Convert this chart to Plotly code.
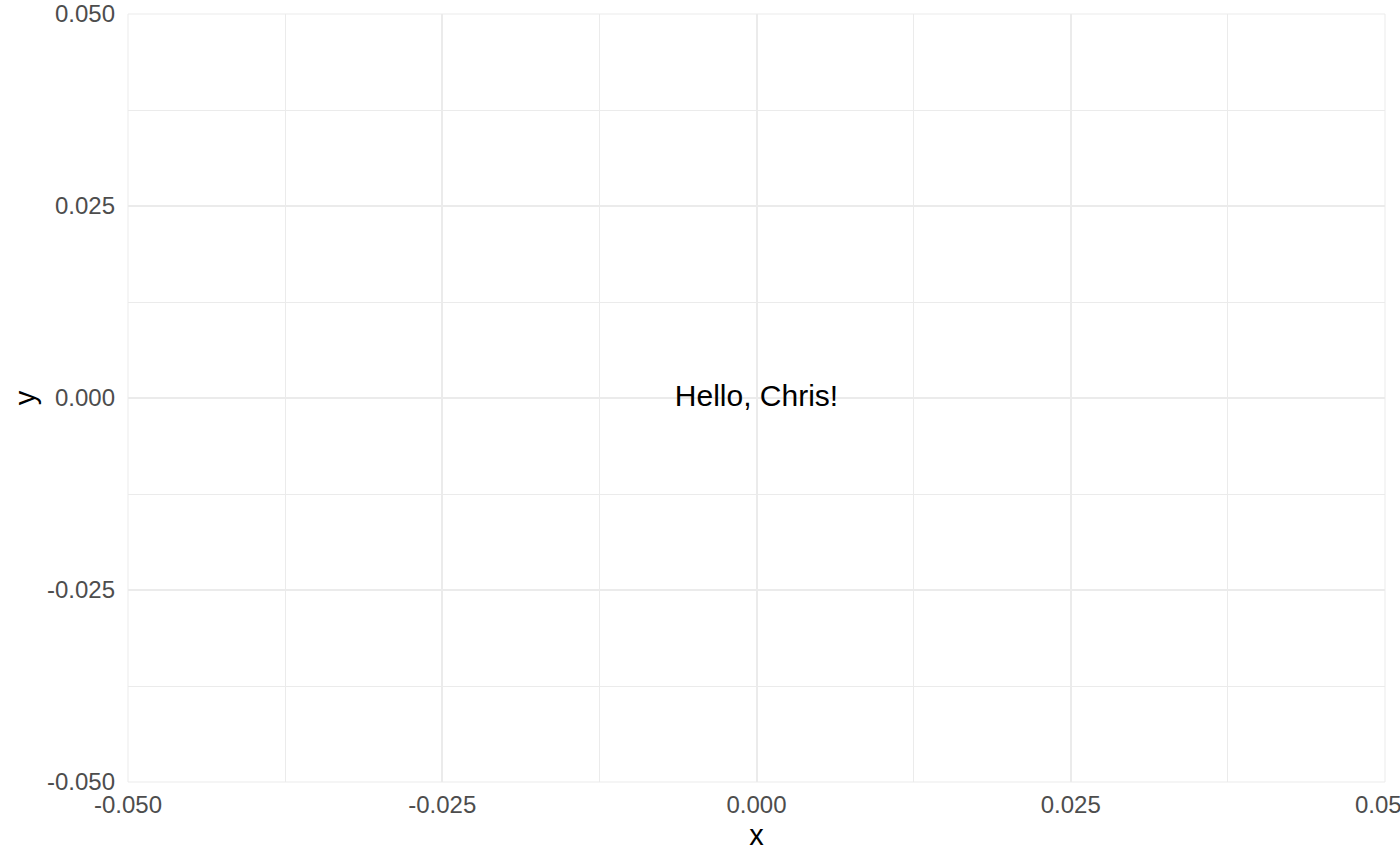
import plotly.graph_objects as go

x_vals = [0.0]
y_vals = [0.0]
labels = ["Hello, Chris!"]
tick_vals = [-0.05, -0.025, 0.0, 0.025, 0.05]
tick_text = ["-0.050", "-0.025", "0.000", "0.025", "0.050"]

FONT = "Liberation Sans, Arial, sans-serif"
GRID = "#EBEBEB"

fig = go.Figure()
fig.add_trace(go.Scatter(
    x=x_vals, y=y_vals, text=labels, mode="text",
    textposition="middle center",
    textfont=dict(family=FONT, size=30, color="black"),
    showlegend=False, hoverinfo="skip", cliponaxis=False,
))

axis_common = dict(
    range=[-0.05, 0.05],
    tickvals=tick_vals,
    ticktext=tick_text,
    showgrid=True, gridcolor=GRID, gridwidth=2,
    zeroline=False, showline=False,
    ticks="",
    automargin=False,
    ticklabeloverflow="allow",
    tickfont=dict(family=FONT, size=24, color="#4D4D4D"),
    minor=dict(dtick=0.0125, tick0=0, showgrid=True, gridcolor=GRID, gridwidth=1),
)

fig.update_layout(
    width=1400, height=866,
    margin=dict(l=128, r=15, t=14, b=84),
    paper_bgcolor="white", plot_bgcolor="white",
    xaxis=dict(**axis_common, ticklabelstandoff=6,
               title=dict(text="x", font=dict(family=FONT, size=29, color="black"), standoff=7)),
    yaxis=dict(**axis_common, ticklabelstandoff=12,
               title=dict(text="y", font=dict(family=FONT, size=29, color="black"), standoff=2)),
    font=dict(family=FONT),
    shapes=[dict(type="rect", xref="paper", yref="paper", x0=0, x1=1, y0=0, y1=1,
                 line=dict(color=GRID, width=1), layer="below")],
)

fig.write_html("out.html")
